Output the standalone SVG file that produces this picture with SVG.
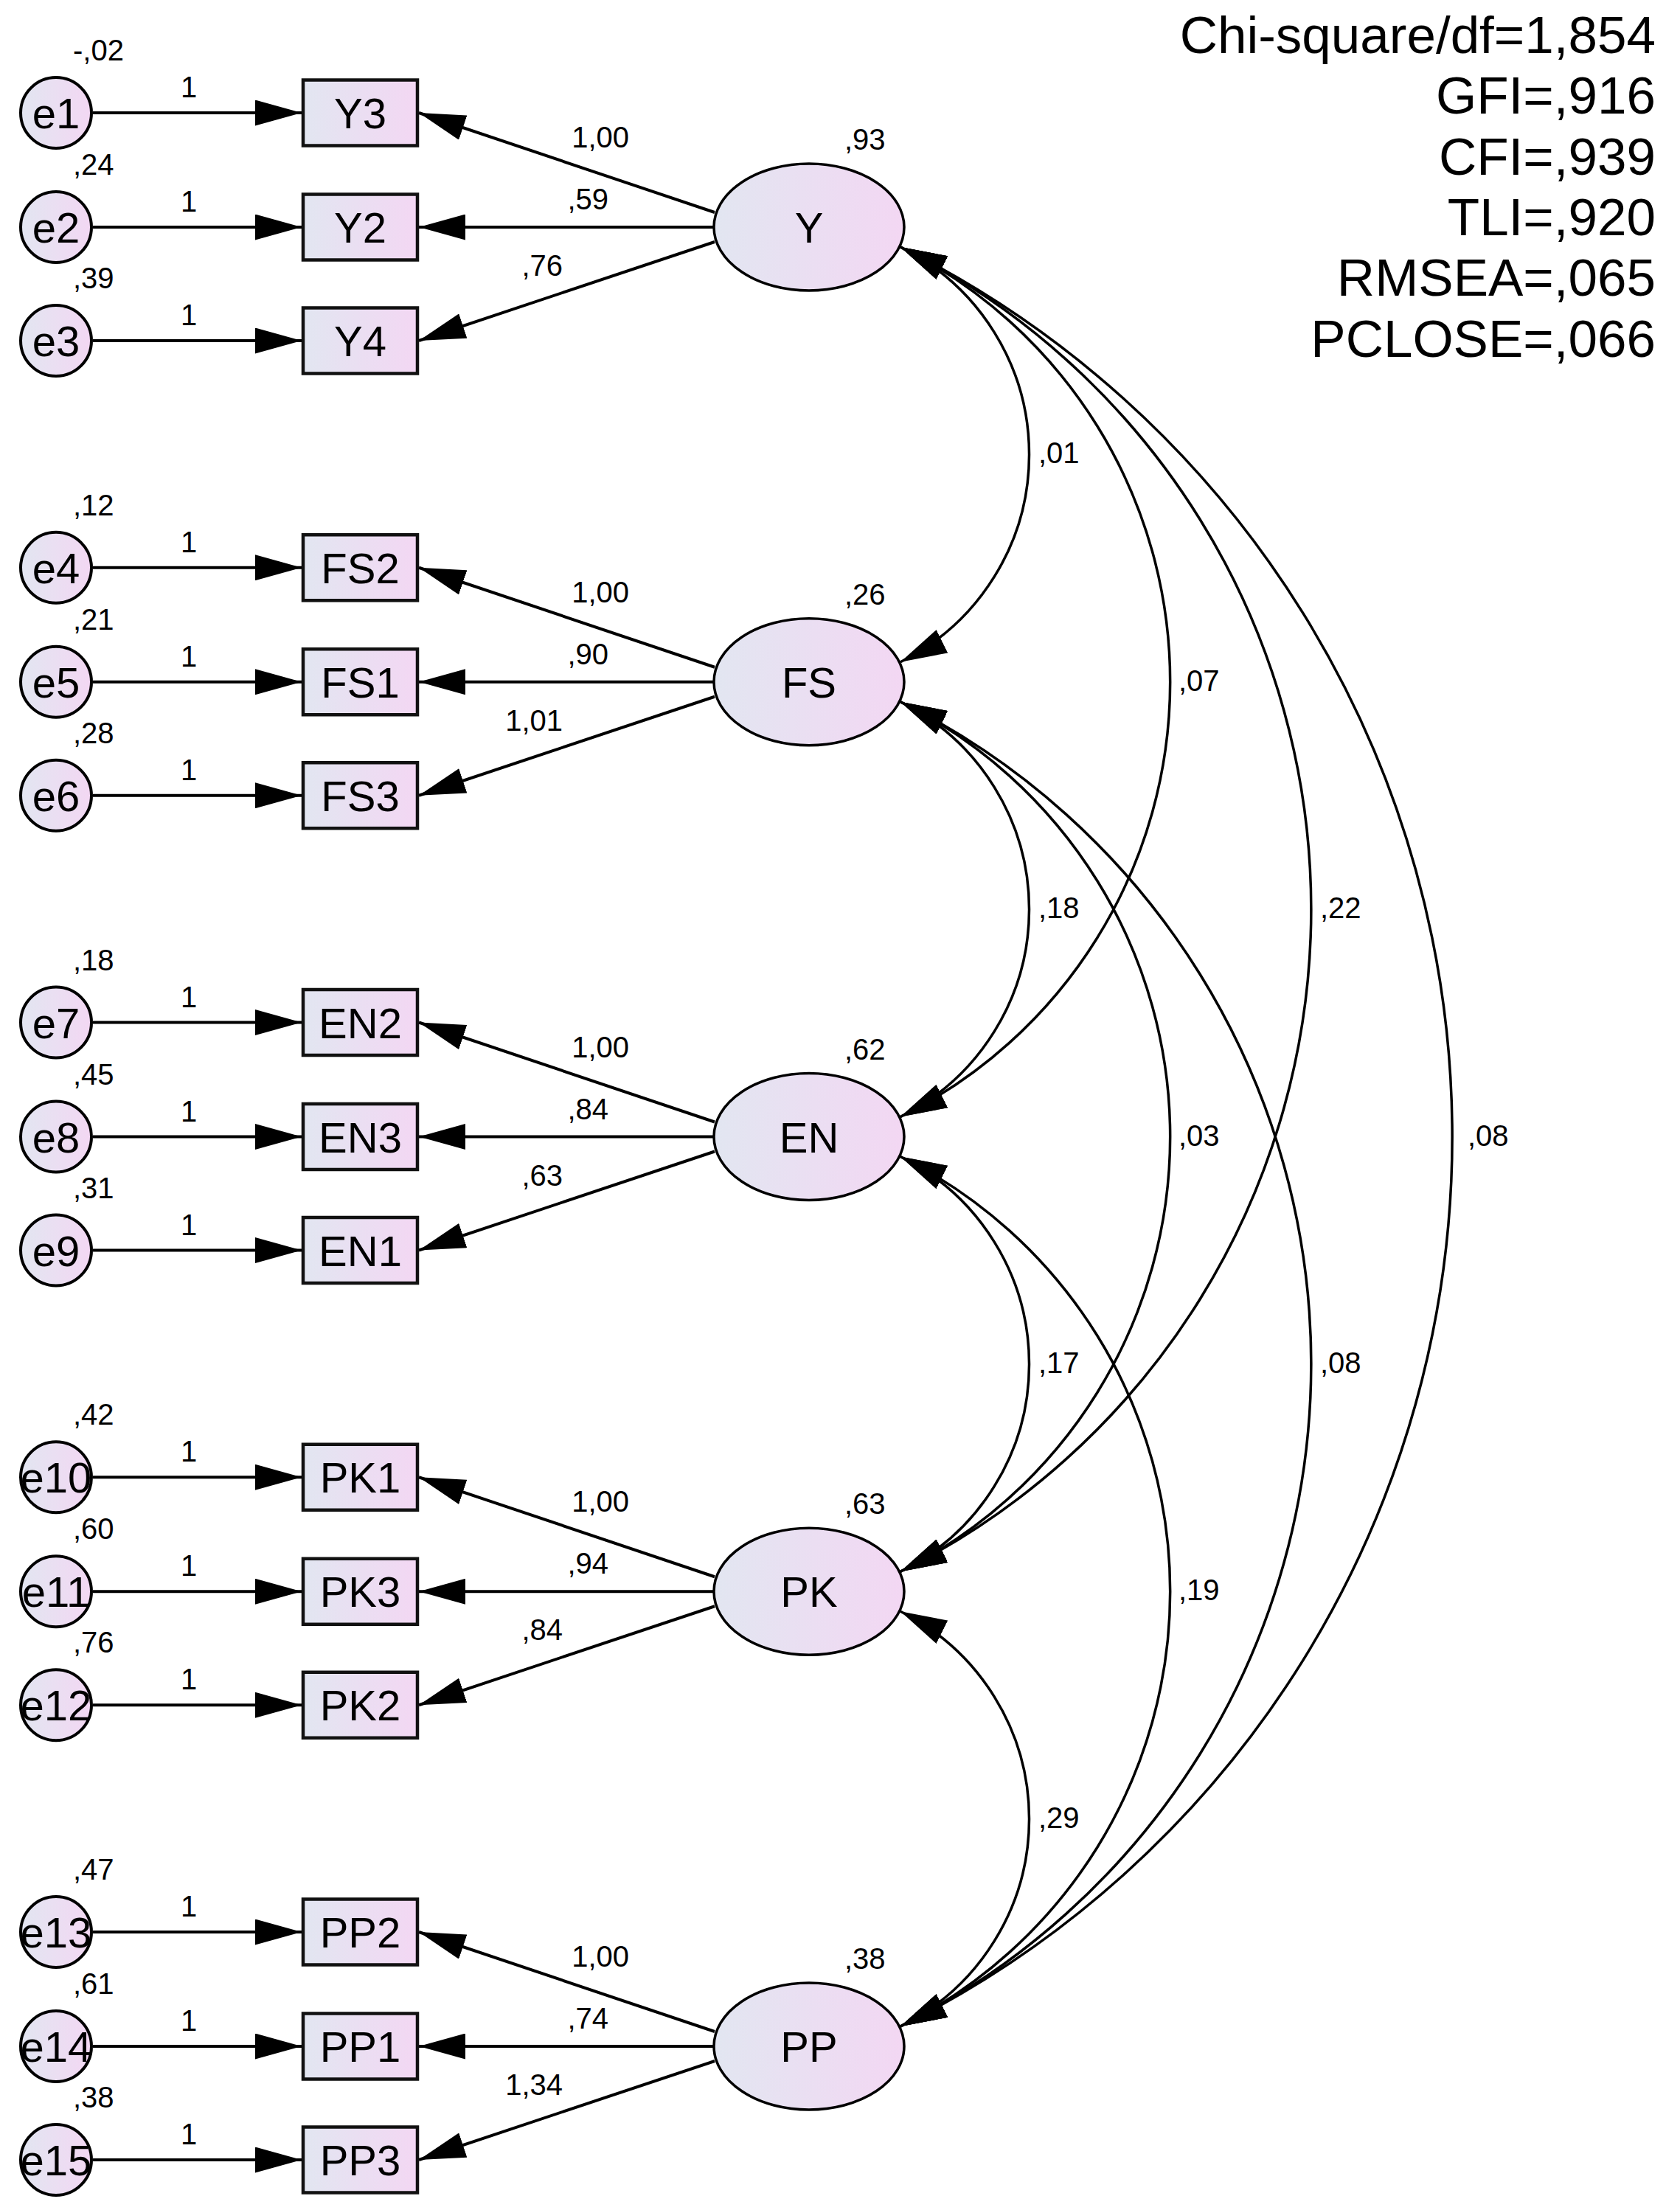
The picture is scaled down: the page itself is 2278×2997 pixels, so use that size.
<svg xmlns="http://www.w3.org/2000/svg" width="2278" height="2997" viewBox="0 0 2278 2997">
<defs>
<linearGradient id="fillg" x1="0" y1="0" x2="1" y2="0">
<stop offset="0" stop-color="#E2E6F1"/>
<stop offset="1" stop-color="#F3D7F3"/>
</linearGradient>
<marker id="ah" viewBox="0 0 63 35" refX="63" refY="17.5" markerWidth="63" markerHeight="35" markerUnits="userSpaceOnUse" orient="auto-start-reverse">
<path d="M0,0 L63,17.5 L0,35 Z" fill="#000"/>
</marker>
<style>
text{font-family:"Liberation Sans",Arial,sans-serif;fill:#000}
.nl{font-size:58px;text-anchor:middle}
.sm{font-size:40px}
.mid{text-anchor:middle}
.end{text-anchor:end}
.fit{font-size:71px;text-anchor:end}
.err{fill:url(#fillg);stroke:#000;stroke-width:4}
.box{fill:url(#fillg);stroke:#111;stroke-width:4.5}
.lat{fill:url(#fillg);stroke:#000;stroke-width:3.5}
.c{fill:none;stroke:#000;stroke-width:4;marker-end:url(#ah)}
.cv{fill:none;stroke:#000;stroke-width:3.5;marker-start:url(#ah);marker-end:url(#ah)}
</style>
</defs>
<rect width="2278" height="2997" fill="#fff"/>

<g id="fit-indices">
<text class="fit" x="2245" y="72">Chi-square/df=1,854</text>
<text class="fit" x="2245" y="154">GFI=,916</text>
<text class="fit" x="2245" y="237">CFI=,939</text>
<text class="fit" x="2245" y="319">TLI=,920</text>
<text class="fit" x="2245" y="401">RMSEA=,065</text>
<text class="fit" x="2245" y="484">PCLOSE=,066</text>
</g>

<!-- Group Y -->
<g id="e1"><circle class="err" cx="76" cy="153" r="48"/><text class="nl" x="76" y="174">e1</text><text class="sm" x="99" y="82">-,02</text></g>
<g id="e2"><circle class="err" cx="76" cy="308" r="48"/><text class="nl" x="76" y="329">e2</text><text class="sm" x="99" y="237">,24</text></g>
<g id="e3"><circle class="err" cx="76" cy="462" r="48"/><text class="nl" x="76" y="483">e3</text><text class="sm" x="99" y="391">,39</text></g>
<g id="Y3"><rect class="box" x="411" y="108.5" width="155" height="89"/><text class="nl" x="488.5" y="174">Y3</text></g>
<g id="Y2"><rect class="box" x="411" y="263.5" width="155" height="89"/><text class="nl" x="488.5" y="329">Y2</text></g>
<g id="Y4"><rect class="box" x="411" y="417.5" width="155" height="89"/><text class="nl" x="488.5" y="483">Y4</text></g>
<g id="Y"><ellipse class="lat" cx="1097" cy="308" rx="129" ry="86"/><text class="nl" x="1097" y="329">Y</text><text class="sm" x="1145" y="203">,93</text></g>

<!-- Group FS -->
<g id="e4"><circle class="err" cx="76" cy="769.75" r="48"/><text class="nl" x="76" y="790.75">e4</text><text class="sm" x="99" y="698.75">,12</text></g>
<g id="e5"><circle class="err" cx="76" cy="924.75" r="48"/><text class="nl" x="76" y="945.75">e5</text><text class="sm" x="99" y="853.75">,21</text></g>
<g id="e6"><circle class="err" cx="76" cy="1078.75" r="48"/><text class="nl" x="76" y="1099.75">e6</text><text class="sm" x="99" y="1007.75">,28</text></g>
<g id="FS2"><rect class="box" x="411" y="725.25" width="155" height="89"/><text class="nl" x="488.5" y="790.75">FS2</text></g>
<g id="FS1"><rect class="box" x="411" y="880.25" width="155" height="89"/><text class="nl" x="488.5" y="945.75">FS1</text></g>
<g id="FS3"><rect class="box" x="411" y="1034.25" width="155" height="89"/><text class="nl" x="488.5" y="1099.75">FS3</text></g>
<g id="FS"><ellipse class="lat" cx="1097" cy="924.75" rx="129" ry="86"/><text class="nl" x="1097" y="945.75">FS</text><text class="sm" x="1145" y="819.75">,26</text></g>

<!-- Group EN -->
<g id="e7"><circle class="err" cx="76" cy="1386.5" r="48"/><text class="nl" x="76" y="1407.5">e7</text><text class="sm" x="99" y="1315.5">,18</text></g>
<g id="e8"><circle class="err" cx="76" cy="1541.5" r="48"/><text class="nl" x="76" y="1562.5">e8</text><text class="sm" x="99" y="1470.5">,45</text></g>
<g id="e9"><circle class="err" cx="76" cy="1695.5" r="48"/><text class="nl" x="76" y="1716.5">e9</text><text class="sm" x="99" y="1624.5">,31</text></g>
<g id="EN2"><rect class="box" x="411" y="1342" width="155" height="89"/><text class="nl" x="488.5" y="1407.5">EN2</text></g>
<g id="EN3"><rect class="box" x="411" y="1497" width="155" height="89"/><text class="nl" x="488.5" y="1562.5">EN3</text></g>
<g id="EN1"><rect class="box" x="411" y="1651" width="155" height="89"/><text class="nl" x="488.5" y="1716.5">EN1</text></g>
<g id="EN"><ellipse class="lat" cx="1097" cy="1541.5" rx="129" ry="86"/><text class="nl" x="1097" y="1562.5">EN</text><text class="sm" x="1145" y="1436.5">,62</text></g>

<!-- Group PK -->
<g id="e10"><circle class="err" cx="76" cy="2003.25" r="48"/><text class="nl" x="76" y="2024.25">e10</text><text class="sm" x="99" y="1932.25">,42</text></g>
<g id="e11"><circle class="err" cx="76" cy="2158.25" r="48"/><text class="nl" x="76" y="2179.25">e11</text><text class="sm" x="99" y="2087.25">,60</text></g>
<g id="e12"><circle class="err" cx="76" cy="2312.25" r="48"/><text class="nl" x="76" y="2333.25">e12</text><text class="sm" x="99" y="2241.25">,76</text></g>
<g id="PK1"><rect class="box" x="411" y="1958.75" width="155" height="89"/><text class="nl" x="488.5" y="2024.25">PK1</text></g>
<g id="PK3"><rect class="box" x="411" y="2113.75" width="155" height="89"/><text class="nl" x="488.5" y="2179.25">PK3</text></g>
<g id="PK2"><rect class="box" x="411" y="2267.75" width="155" height="89"/><text class="nl" x="488.5" y="2333.25">PK2</text></g>
<g id="PK"><ellipse class="lat" cx="1097" cy="2158.25" rx="129" ry="86"/><text class="nl" x="1097" y="2179.25">PK</text><text class="sm" x="1145" y="2053.25">,63</text></g>

<!-- Group PP -->
<g id="e13"><circle class="err" cx="76" cy="2620" r="48"/><text class="nl" x="76" y="2641">e13</text><text class="sm" x="99" y="2549">,47</text></g>
<g id="e14"><circle class="err" cx="76" cy="2775" r="48"/><text class="nl" x="76" y="2796">e14</text><text class="sm" x="99" y="2704">,61</text></g>
<g id="e15"><circle class="err" cx="76" cy="2929" r="48"/><text class="nl" x="76" y="2950">e15</text><text class="sm" x="99" y="2858">,38</text></g>
<g id="PP2"><rect class="box" x="411" y="2575.5" width="155" height="89"/><text class="nl" x="488.5" y="2641">PP2</text></g>
<g id="PP1"><rect class="box" x="411" y="2730.5" width="155" height="89"/><text class="nl" x="488.5" y="2796">PP1</text></g>
<g id="PP3"><rect class="box" x="411" y="2884.5" width="155" height="89"/><text class="nl" x="488.5" y="2950">PP3</text></g>
<g id="PP"><ellipse class="lat" cx="1097" cy="2775" rx="129" ry="86"/><text class="nl" x="1097" y="2796">PP</text><text class="sm" x="1145" y="2670">,38</text></g>

<g id="connectors">
<!-- error paths -->
<path class="c" d="M126 153 H409"/>
<path class="c" d="M126 308 H409"/>
<path class="c" d="M126 462 H409"/>
<path class="c" d="M126 769.75 H409"/>
<path class="c" d="M126 924.75 H409"/>
<path class="c" d="M126 1078.75 H409"/>
<path class="c" d="M126 1386.5 H409"/>
<path class="c" d="M126 1541.5 H409"/>
<path class="c" d="M126 1695.5 H409"/>
<path class="c" d="M126 2003.25 H409"/>
<path class="c" d="M126 2158.25 H409"/>
<path class="c" d="M126 2312.25 H409"/>
<path class="c" d="M126 2620 H409"/>
<path class="c" d="M126 2775 H409"/>
<path class="c" d="M126 2929 H409"/>
<text class="sm mid" x="256" y="132">1</text>
<text class="sm mid" x="256" y="287">1</text>
<text class="sm mid" x="256" y="441">1</text>
<text class="sm mid" x="256" y="748.75">1</text>
<text class="sm mid" x="256" y="903.75">1</text>
<text class="sm mid" x="256" y="1057.75">1</text>
<text class="sm mid" x="256" y="1365.5">1</text>
<text class="sm mid" x="256" y="1520.5">1</text>
<text class="sm mid" x="256" y="1674.5">1</text>
<text class="sm mid" x="256" y="1982.25">1</text>
<text class="sm mid" x="256" y="2137.25">1</text>
<text class="sm mid" x="256" y="2291.25">1</text>
<text class="sm mid" x="256" y="2599">1</text>
<text class="sm mid" x="256" y="2754">1</text>
<text class="sm mid" x="256" y="2908">1</text>
<!-- loadings -->
<path class="c" d="M969 288 L568 153"/>
<path class="c" d="M968 308 H568"/>
<path class="c" d="M969 328 L568 462"/>
<path class="c" d="M969 904.75 L568 769.75"/>
<path class="c" d="M968 924.75 H568"/>
<path class="c" d="M969 944.75 L568 1078.75"/>
<path class="c" d="M969 1521.5 L568 1386.5"/>
<path class="c" d="M968 1541.5 H568"/>
<path class="c" d="M969 1561.5 L568 1695.5"/>
<path class="c" d="M969 2138.25 L568 2003.25"/>
<path class="c" d="M968 2158.25 H568"/>
<path class="c" d="M969 2178.25 L568 2312.25"/>
<path class="c" d="M969 2755 L568 2620"/>
<path class="c" d="M968 2775 H568"/>
<path class="c" d="M969 2795 L568 2929"/>
<text class="sm end" x="853" y="200">1,00</text>
<text class="sm end" x="825" y="284">,59</text>
<text class="sm end" x="763" y="374">,76</text>
<text class="sm end" x="853" y="816.75">1,00</text>
<text class="sm end" x="825" y="900.75">,90</text>
<text class="sm end" x="763" y="990.75">1,01</text>
<text class="sm end" x="853" y="1433.5">1,00</text>
<text class="sm end" x="825" y="1517.5">,84</text>
<text class="sm end" x="763" y="1607.5">,63</text>
<text class="sm end" x="853" y="2050.25">1,00</text>
<text class="sm end" x="825" y="2134.25">,94</text>
<text class="sm end" x="763" y="2224.25">,84</text>
<text class="sm end" x="853" y="2667">1,00</text>
<text class="sm end" x="825" y="2751">,74</text>
<text class="sm end" x="763" y="2841">1,34</text>
<!-- covariances -->
<path class="cv" d="M1221 335 A314.1 314.1 0 0 1 1221 897.75"/>
<path class="cv" d="M1221 335 A658.4 658.4 0 0 1 1221 1514.5"/>
<path class="cv" d="M1221 335 A1002.7 1002.7 0 0 1 1221 2131.25"/>
<path class="cv" d="M1221 335 A1346.9 1346.9 0 0 1 1221 2748"/>
<path class="cv" d="M1221 951.75 A314.1 314.1 0 0 1 1221 1514.5"/>
<path class="cv" d="M1221 951.75 A658.4 658.4 0 0 1 1221 2131.25"/>
<path class="cv" d="M1221 951.75 A1002.7 1002.7 0 0 1 1221 2748"/>
<path class="cv" d="M1221 1568.5 A314.1 314.1 0 0 1 1221 2131.25"/>
<path class="cv" d="M1221 1568.5 A658.4 658.4 0 0 1 1221 2748"/>
<path class="cv" d="M1221 2185.25 A314.1 314.1 0 0 1 1221 2748"/>
<text class="sm" x="1408" y="628">,01</text>
<text class="sm" x="1598" y="937">,07</text>
<text class="sm" x="1790" y="1245">,22</text>
<text class="sm" x="1990" y="1554">,08</text>
<text class="sm" x="1408" y="1245">,18</text>
<text class="sm" x="1598" y="1554">,03</text>
<text class="sm" x="1790" y="1862">,08</text>
<text class="sm" x="1408" y="1862">,17</text>
<text class="sm" x="1598" y="2170">,19</text>
<text class="sm" x="1408" y="2479">,29</text>
</g>
</svg>
